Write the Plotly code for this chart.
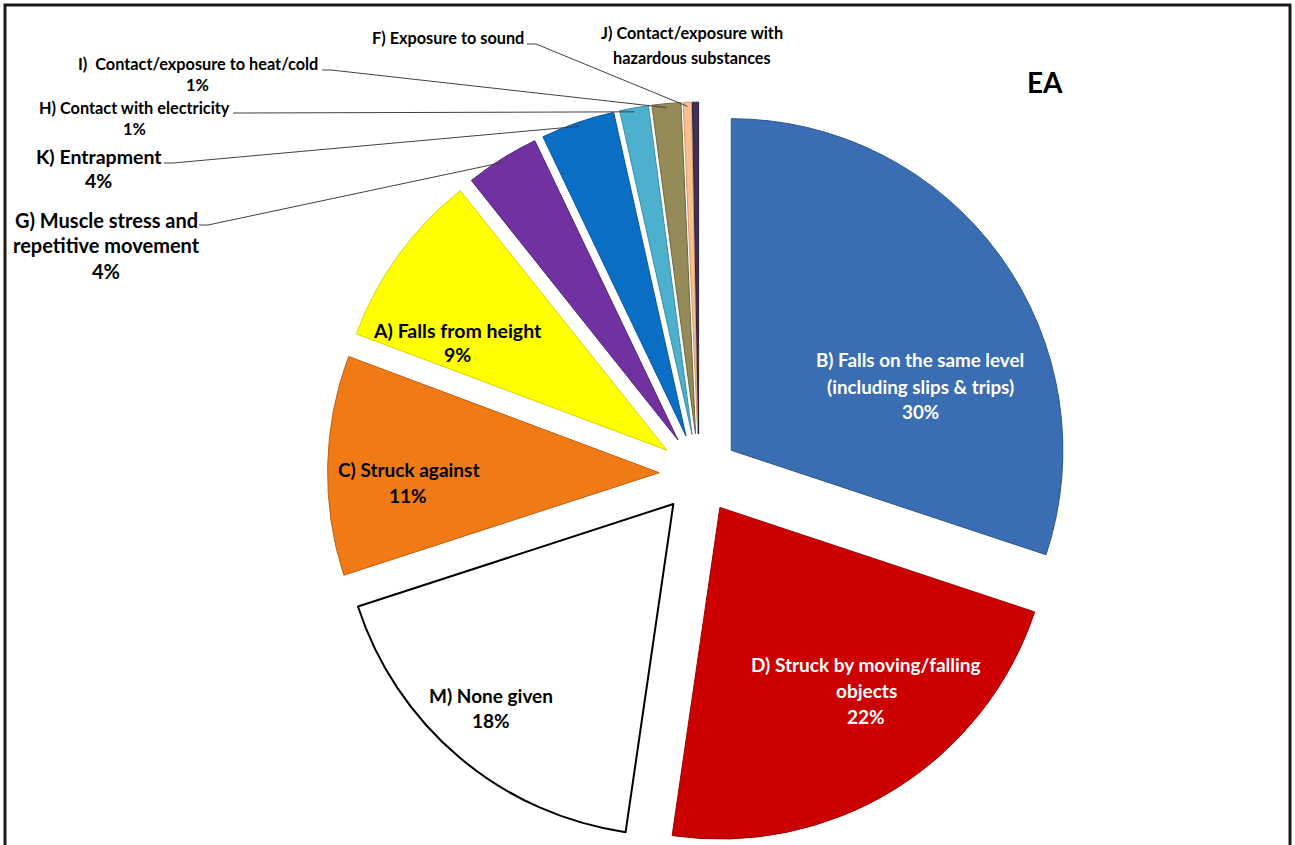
import math
import plotly.graph_objects as go

# ---------------- data ----------------
categories = [
    "B) Falls on the same level (including slips & trips)",
    "D) Struck by moving/falling objects",
    "M) None given",
    "C) Struck against",
    "A) Falls from height",
    "G) Muscle stress and repetitive movement",
    "K) Entrapment",
    "H) Contact with electricity",
    "I) Contact/exposure to heat/cold",
    "F) Exposure to sound",
    "J) Contact/exposure with hazardous substances",
]
shares = [30.1, 22.2, 17.7, 10.7, 8.6, 3.6, 3.6, 1.4, 1.4, 0.4, 0.3]
show_pct = [True, True, True, True, True, True, True, True, True, False, False]
label_lines = [
    ["B) Falls on the same level", "(including slips & trips)"],
    ["D) Struck by moving/falling", "objects"],
    ["M) None given"],
    ["C) Struck against"],
    ["A) Falls from height"],
    ["G) Muscle stress and", "repetitive movement"],
    ["K) Entrapment"],
    ["H) Contact with electricity"],
    ["I)  Contact/exposure to heat/cold"],
    ["F) Exposure to sound"],
    ["J) Contact/exposure with", "hazardous substances"],
]
title_text = "EA"

# ---------------- styles ----------------
slice_colors = ["#3A6DB1", "#CC0000", "#FFFFFF", "#F07A16", "#FFFF00", "#7131A1",
                "#0A6FC4", "#4DB1CD", "#958B58", "#F8BF8F", "#3F3153"]
edge_colors = ["#2C5690", "#9E0000", "#000000", "#C25F0E", "#D6D600", "#55227E",
               "#07579C", "#3A8EA6", "#6E663F", "#D49A6C", "#2A2038"]
edge_widths = [1, 1, 2, 1, 1, 1, 1, 1, 1, 1, 1]
text_colors = ["white", "white", "black", "black", "black", "black",
               "black", "black", "black", "black", "black"]
# label placement (pixel centres of each text line) and font size
label_pos = [
    (920, [360, 386, 411], 18.8),
    (866, [664, 690, 716], 19),
    (491, [695, 720], 19),
    (408, [470, 495], 19),
    (457, [330, 355], 19.5),
    (106, [220, 245, 271], 20),
    (99, [156, 181], 19.5),
    (134, [107, 129], 16.3),
    (198, [64, 85], 16.3),
    (448, [38], 16.3),
    (692, [33, 58], 16.3),
]
# start of leader lines (pixel) for outside labels; None = no line
leader_start = [None, None, None, None, None, (199, 225), (164, 163),
                (233, 113), (322, 70), (527, 44), None]

W, H = 1295, 845
CX, CY, R, PULL = 699, 474, 332, 0.12
FONT = "Lato, Open Sans, sans-serif"


def px(x):
    return x / W


def py(y):
    return 1 - y / H


half = R * (1 + PULL)
domain_x = [(CX - half) / W, (CX + half) / W]
domain_y = [0.0, 1 - (CY - half) / H]

fig = go.Figure(
    go.Pie(
        labels=categories,
        values=shares,
        sort=False,
        direction="clockwise",
        rotation=0,
        pull=PULL,
        marker=dict(colors=slice_colors, line=dict(color=edge_colors, width=edge_widths)),
        textinfo="none",
        hoverinfo="label+percent",
        domain=dict(x=domain_x, y=domain_y),
    )
)

total = sum(shares)
annotations = []
shapes = []
cum = 0.0
for i, v in enumerate(shares):
    lines = list(label_lines[i])
    if show_pct[i]:
        lines.append(f"{v / total:.0%}")
    cx, ys, fs = label_pos[i]
    for txt, yy in zip(lines, ys):
        annotations.append(dict(
            x=px(cx), y=py(yy), xref="paper", yref="paper",
            xanchor="center", yanchor="middle", showarrow=False,
            text=f"<b>{txt}</b>",
            font=dict(family=FONT, size=fs, color=text_colors[i]),
        ))
    mid = (cum + v / 2) / total * 2 * math.pi
    cum += v
    if leader_start[i] is not None:
        sx, sy = leader_start[i]
        rr = R * (1 + PULL) - 4
        tx = CX + rr * math.sin(mid)
        ty = CY - rr * math.cos(mid)
        path = (f"M {px(sx)} {py(sy)} L {px(sx + 9)} {py(sy)} "
                f"L {px(tx)} {py(ty)}")
        shapes.append(dict(type="path", xref="paper", yref="paper", path=path,
                           line=dict(color="#404040", width=1)))

annotations.append(dict(
    x=px(1045), y=py(82), xref="paper", yref="paper", xanchor="center",
    yanchor="middle", showarrow=False, text=f"<b>{title_text}</b>",
    font=dict(family=FONT, size=28, color="black"),
))

# outer frame
shapes.append(dict(type="rect", xref="paper", yref="paper",
                   x0=px(5), x1=px(1290), y0=-0.05, y1=py(5),
                   line=dict(color="#1a1a1a", width=3), fillcolor="rgba(0,0,0,0)"))

fig.update_layout(
    width=W, height=H,
    margin=dict(l=0, r=0, t=0, b=0),
    paper_bgcolor="white",
    plot_bgcolor="white",
    showlegend=False,
    annotations=annotations,
    shapes=shapes,
    font=dict(family=FONT),
)

fig.write_html(
    "out.html",
    config={"displayModeBar": False},
    post_script="document.body.style.margin='0';document.body.style.overflow='hidden';",
)
